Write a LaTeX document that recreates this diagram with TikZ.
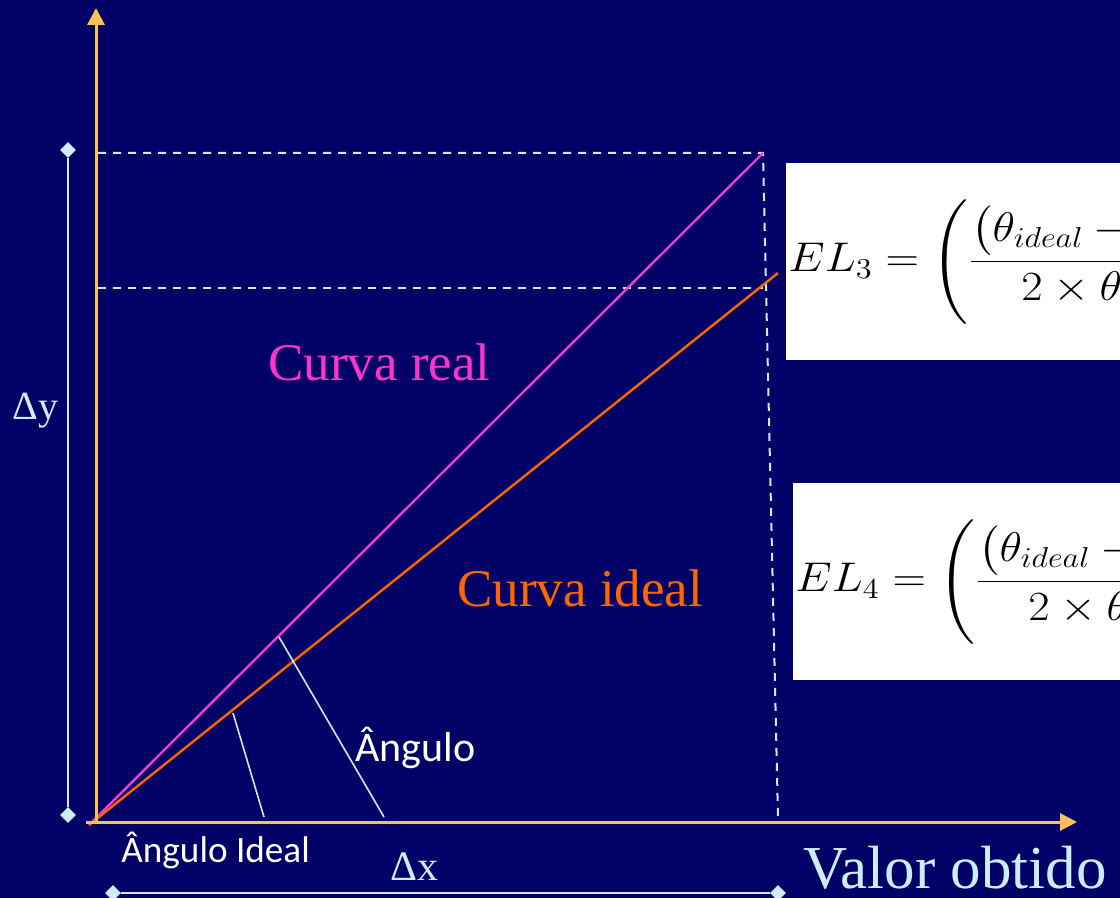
\documentclass[tikz,border=0pt]{standalone}
\usepackage[no-math]{fontspec}
\setmainfont{Liberation Serif}
\newfontfamily\calibri{Carlito}
\usepackage{amsmath}
\usetikzlibrary{arrows.meta,shapes.geometric}
\definecolor{bg}{RGB}{0,0,102}
\definecolor{axisc}{RGB}{255,192,90}
\definecolor{lblue}{RGB}{204,236,255}
\definecolor{pinkc}{RGB}{240,60,210}
\definecolor{pinktxt}{RGB}{255,51,204}
\definecolor{orangec}{RGB}{255,102,0}
\begin{document}
\begin{tikzpicture}[x=0.5pt,y=-0.5pt,
  axis/.style={draw=axisc,line width=1.5pt,-{Triangle[length=8.5pt,width=8.5pt]}},
  dim/.style={draw=lblue,line width=0.8pt},
  dia/.style={diamond,fill=lblue,inner sep=0pt,minimum size=8pt},
  guide/.style={draw=lblue,line width=1pt,dash pattern=on 4pt off 3.5pt},
  curvereal/.style={draw=pinkc,line width=1.2pt},
  curveideal/.style={draw=orangec,line width=1.2pt},
  tick/.style={draw=lblue,line width=0.8pt},
  serlbl/.style={anchor=base west,inner sep=0pt,text=lblue},
  anglbl/.style={anchor=base west,inner sep=0pt,text=white},
  fbox/.style={anchor=north west,fill=white,draw=none,inner sep=0pt,minimum width=172pt,minimum height=98.5pt},
  formula/.style={anchor=base west,inner sep=0pt,text=black,xscale=1.12,font=\fontsize{21}{25}\selectfont}]
\useasboundingbox (0,0) rectangle (1120,898);
\fill[bg] (0,0) rectangle (1120,898);
\clip (0,0) rectangle (1120,898);

% coordinates
\coordinate (O) at (89,825);
\coordinate (P) at (763,153);
\coordinate (Q) at (778,273);
\coordinate (h1) at (98,153);
\coordinate (h2) at (98,288);
\coordinate (h2e) at (763,288);
\coordinate (vb) at (778,818);
\coordinate (ya) at (96,823);
\coordinate (yt) at (96,8);
\coordinate (xa) at (86,822);
\coordinate (xt) at (1077,822);
\coordinate (a1) at (233,713);
\coordinate (a1e) at (264,817);
\coordinate (a2) at (279,637);
\coordinate (a2e) at (384,817);

% white formula boxes
\node[fbox] (b1) at (786,163) {};
\node[fbox] (b2) at (793,483) {};
\node[formula] (f3) at (788,272) {$EL_3=\Bigg(\dfrac{\big(\theta_{ideal}-\theta_{real}\big)}{2\times\theta_{ideal}}\Bigg)$};
\node[formula] (f4) at (795,592) {$EL_4=\Bigg(\dfrac{\big(\theta_{ideal}-\theta_{real}\big)}{2\times\theta_{ideal}}\Bigg)$};

% dashed guides
\draw[guide] (h1) -- (P) -- (vb);
\draw[guide] (h2) -- (h2e);

% curves
\draw[curvereal] (O) -- (P);
\draw[curveideal] (O) -- (Q);

% angle ticks
\draw[tick] (a1) -- (a1e);
\draw[tick] (a2) -- (a2e);

% axes
\draw[axis] (ya) -- (yt);
\draw[axis] (xa) -- (xt);

% dimension lines
\node[dia] (dy1) at (68,150) {};
\node[dia] (dy2) at (68,815) {};
\draw[dim] (dy1) -- (dy2);
\node[dia] (dx1) at (113,893) {};
\node[dia] (dx2) at (778,893) {};
\draw[dim] (dx1) -- (dx2);

% labels
\node[serlbl,font=\fontsize{20}{24}\selectfont] (ly) at (12,420) {Δy};
\node[serlbl,font=\fontsize{21}{25}\selectfont] (lx) at (390,880) {Δx};
\node[serlbl,font=\fontsize{30.5}{36}\selectfont] (lv) at (803,888) {Valor obtido};
\node[anchor=base west,inner sep=0pt,text=pinktxt,font=\fontsize{26.5}{32}\selectfont] (lr) at (268,381) {Curva real};
\node[anchor=base west,inner sep=0pt,text=orangec,font=\fontsize{26.5}{32}\selectfont] (li) at (457,607) {Curva ideal};
\node[anglbl,font=\calibri\fontsize{21}{25}\selectfont] (la) at (355,762) {Ângulo};
\node[anglbl,font=\calibri\fontsize{18.6}{22}\selectfont] (lai) at (121,862) {Ângulo Ideal};
\end{tikzpicture}
\end{document}
